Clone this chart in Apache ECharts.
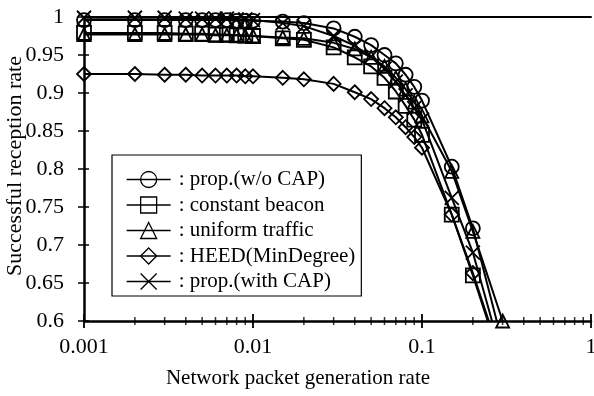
<!DOCTYPE html>
<html>
<head>
<meta charset="utf-8">
<script src="https://cdn.jsdelivr.net/npm/echarts@6/dist/echarts.min.js"></script>
<style>
  html, body { margin: 0; padding: 0; background: #fff; }
  #chart { width: 594px; height: 396px; }
</style>
</head>
<body>
<div id="chart"></div>
<script>
// Packet generation rates (x) shared by every curve
const rates = [0.001, 0.002, 0.003, 0.004, 0.005, 0.006, 0.007, 0.008, 0.009, 0.01,
               0.015, 0.02, 0.03, 0.04, 0.05, 0.06, 0.07, 0.08, 0.09, 0.1, 0.15, 0.2, 0.3];

// Successful reception rate for each scheme
const propNoCap   = [0.996, 0.996, 0.996, 0.996, 0.996, 0.996, 0.996, 0.995, 0.995, 0.995,
                     0.994, 0.992, 0.985, 0.974, 0.963, 0.950, 0.939, 0.924, 0.908, 0.890, 0.803, 0.722, 0.570];
const constBeacon = [0.979, 0.979, 0.979, 0.978, 0.978, 0.977, 0.977, 0.976, 0.976, 0.975,
                     0.972, 0.970, 0.960, 0.947, 0.935, 0.920, 0.902, 0.883, 0.865, 0.845, 0.740, 0.660, 0.540];
const uniformTraf = [0.977, 0.977, 0.977, 0.977, 0.977, 0.976, 0.976, 0.976, 0.975, 0.975,
                     0.973, 0.972, 0.966, 0.958, 0.947, 0.935, 0.920, 0.905, 0.888, 0.870, 0.797, 0.718, 0.600];
const heedMinDeg  = [0.925, 0.925, 0.924, 0.924, 0.923, 0.923, 0.923, 0.923, 0.922, 0.922,
                     0.920, 0.918, 0.912, 0.901, 0.892, 0.880, 0.868, 0.855, 0.842, 0.828, 0.740, 0.663, 0.545];
const propWithCap = [0.999, 0.999, 0.999, 0.998, 0.998, 0.998, 0.998, 0.997, 0.997, 0.996,
                     0.992, 0.988, 0.975, 0.962, 0.948, 0.932, 0.915, 0.897, 0.880, 0.865, 0.762, 0.690, 0.550];

const seriesNames = ['prop.(w/o CAP)', 'constant beacon', 'uniform traffic', 'HEED(MinDegree)', 'prop.(with CAP)'];
const seriesValues = [propNoCap, constBeacon, uniformTraf, heedMinDeg, propWithCap];
const seriesSymbols = ['circle', 'rect', 'triangle', 'diamond', 'path://M0,0L10,10M10,0L0,10'];

// Axis ticks
const xTickLabels = ['0.001', '0.01', '0.1', '1'];
const yTicks = [0.6, 0.65, 0.7, 0.75, 0.8, 0.85, 0.9, 0.95, 1];
const xMinorTicks = [0.002, 0.003, 0.004, 0.005, 0.006, 0.007, 0.008, 0.009,
                     0.02, 0.03, 0.04, 0.05, 0.06, 0.07, 0.08, 0.09,
                     0.2, 0.3, 0.4, 0.5, 0.6, 0.7, 0.8, 0.9];

const FONT = '"Liberation Serif", "Times New Roman", serif';
const FS = 21;
const TICK_FS = 22;

const chart = echarts.init(document.getElementById('chart'), null, { renderer: 'canvas' });

const lineSeries = seriesNames.map((name, i) => ({
  name: name,
  type: 'line',
  xAxisIndex: 0,
  yAxisIndex: 0,
  data: rates.map((r, j) => [r, seriesValues[i][j]]),
  symbol: seriesSymbols[i],
  symbolSize: i === 2 ? 13 : 14,
  showAllSymbol: true,
  clip: true,
  z: 3,
  lineStyle: { color: '#000', width: 2 },
  itemStyle: { color: 'rgba(0,0,0,0)', borderColor: '#000', borderWidth: 1.8 },
  emphasis: { disabled: true },
  animation: false
}));

// Minor tick marks crossing the x axis
const minorTickSeries = {
  type: 'scatter',
  xAxisIndex: 0,
  yAxisIndex: 0,
  data: xMinorTicks.map(v => [v, 0.6]),
  symbol: 'rect',
  symbolSize: [1.5, 8],
  itemStyle: { color: '#000' },
  clip: false,
  silent: true,
  z: 5,
  animation: false
};

const yMin = yTicks[0], yMax = yTicks[yTicks.length - 1];

chart.setOption({
  backgroundColor: '#fff',
  animation: false,
  grid: { left: 84, right: 3, top: 17, bottom: 75, containLabel: false, outerBoundsMode: 'none' },
  xAxis: [
    {
      type: 'log', logBase: 10, min: 0.001, max: 1,
      position: 'bottom',
      name: 'Network packet generation rate',
      nameLocation: 'middle',
      nameGap: 47,
      nameMoveOverlap: false,
      nameTextStyle: { fontFamily: FONT, fontSize: FS, color: '#000', padding: [0, 79, 0, 0] },
      axisLine: { show: true, lineStyle: { color: '#000', width: 2.5 } },
      axisTick: { show: true, length: 7, lineStyle: { color: '#000', width: 1.8 } },
      axisLabel: {
        fontFamily: FONT, fontSize: TICK_FS, color: '#000', margin: 15,
        formatter: v => xTickLabels.find(t => Math.abs(parseFloat(t) - v) < v * 1e-6) || ''
      },
      splitLine: { show: false }
    },
    {
      type: 'log', logBase: 10, min: 0.001, max: 1,
      position: 'bottom',
      axisLine: { show: false },
      axisTick: { show: true, inside: true, length: 7, lineStyle: { color: '#000', width: 1.8 } },
      axisLabel: { show: false },
      splitLine: { show: false }
    },
    {
      type: 'value', min: 0, max: 1,
      position: 'top',
      axisLine: { show: true, lineStyle: { color: '#000', width: 2 } },
      axisTick: { show: false },
      axisLabel: { show: false },
      splitLine: { show: false }
    }
  ],
  yAxis: [
    {
      type: 'value', min: yMin, max: yMax, interval: 0.05,
      position: 'left',
      name: 'Successful reception rate',
      nameLocation: 'middle',
      nameGap: 58,
      nameMoveOverlap: false,
      nameTextStyle: { fontFamily: FONT, fontSize: 22, color: '#000', padding: [0, 0, 0, 6] },
      axisLine: { show: true, lineStyle: { color: '#000', width: 2.5 } },
      axisTick: { show: true, length: 6, lineStyle: { color: '#000', width: 1.5 } },
      axisLabel: { fontFamily: FONT, fontSize: TICK_FS, color: '#000', margin: 20 },
      splitLine: { show: false }
    },
    {
      type: 'value', min: yMin, max: yMax, interval: 0.05,
      position: 'left',
      axisLine: { show: false },
      axisTick: { show: true, inside: true, length: 5, lineStyle: { color: '#000', width: 1.5 } },
      axisLabel: { show: false },
      splitLine: { show: false }
    }
  ],
  legend: {
    orient: 'vertical',
    left: 112,
    top: 155,
    padding: [14, 6, 4, 14],
    itemGap: 4.5,
    itemWidth: 44,
    itemHeight: 20,
    backgroundColor: '#fff',
    borderColor: '#000',
    borderWidth: 1.2,
    borderRadius: 0,
    selectedMode: false,
    data: seriesNames,
    formatter: n => ': ' + n,
    textStyle: { fontFamily: FONT, fontSize: FS, color: '#000', lineHeight: 21, padding: [0, 0, 0, 3] },
    itemStyle: { color: 'rgba(0,0,0,0)', borderColor: '#000', borderWidth: 1.3 },
    lineStyle: { color: '#000', width: 1.3 }
  },
  series: lineSeries.concat([minorTickSeries])
});
</script>
</body>
</html>
